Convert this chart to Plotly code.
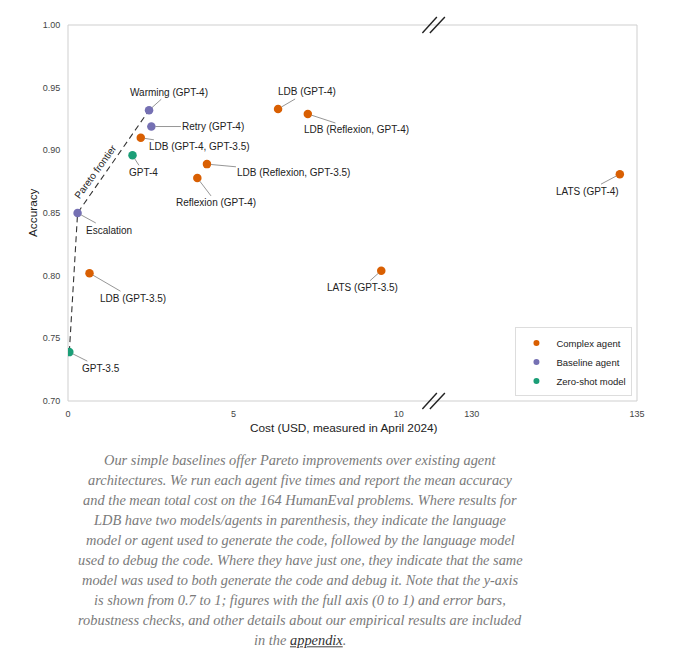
import plotly.graph_objects as go

# ---------------- data ----------------
labels = ["LDB (GPT-4)", "LDB (Reflexion, GPT-4)", "LDB (GPT-4, GPT-3.5)",
          "LDB (Reflexion, GPT-3.5)", "Reflexion (GPT-4)", "LATS (GPT-4)",
          "LDB (GPT-3.5)", "LATS (GPT-3.5)",
          "Warming (GPT-4)", "Retry (GPT-4)", "Escalation",
          "GPT-4", "GPT-3.5"]
cost = [6.35, 7.25, 2.20, 4.20, 3.91, 134.48, 0.65, 9.47,
        2.45, 2.52, 0.29,
        1.95, 0.04]
accuracy = [0.933, 0.929, 0.910, 0.889, 0.878, 0.881, 0.802, 0.804,
            0.932, 0.919, 0.850,
            0.896, 0.739]
group = ["Complex agent"] * 8 + ["Baseline agent"] * 3 + ["Zero-shot model"] * 2
categories = ["Complex agent", "Baseline agent", "Zero-shot model"]
frontier = ["GPT-3.5", "Escalation", "Warming (GPT-4)"]
left_ticks = [0, 5, 10]
right_ticks = [130, 135]
y_ticks = [0.70, 0.75, 0.80, 0.85, 0.90, 0.95, 1.00]
caption_lines = [
    "Our simple baselines offer Pareto improvements over existing agent",
    "architectures. We run each agent five times and report the mean accuracy",
    "and the mean total cost on the 164 HumanEval problems. Where results for",
    "LDB have two models/agents in parenthesis, they indicate the language",
    "model or agent used to generate the code, followed by the language model",
    "used to debug the code. Where they have just one, they indicate that the same",
    "model was used to both generate the code and debug it. Note that the y-axis",
    "is shown from 0.7 to 1; figures with the full axis (0 to 1) and error bars,",
    "robustness checks, and other details about our empirical results are included",
    "in the <u><span style='color:#333333'>appendix</span></u>.",
]

# ---------------- styling / layout ----------------
colors = {"Complex agent": "#D95F02", "Baseline agent": "#7570B3", "Zero-shot model": "#1B9E77"}
label_offsets = {
    "Warming (GPT-4)": (20, -18), "Retry (GPT-4)": (62, 0),
    "LDB (GPT-4, GPT-3.5)": (59, 9), "GPT-4": (11, 17),
    "LDB (Reflexion, GPT-3.5)": (87, 8), "Reflexion (GPT-4)": (19, 25),
    "LDB (GPT-4)": (29, -17), "LDB (Reflexion, GPT-4)": (49, 16),
    "LATS (GPT-4)": (-32, 17), "Escalation": (31, 17),
    "LDB (GPT-3.5)": (43, 25), "GPT-3.5": (32, 16), "LATS (GPT-3.5)": (-19, 17),
}
BREAK = 0.643
LEFT_MAX = 11.06
RIGHT_MIN = 128.85
FONT = "Liberation Sans"
# the page body adds an 8px offset, so the figure is laid out 8px smaller
PLOT_TOP, PLOT_BOTTOM, PLOT_LEFT, PLOT_W = 25, 401, 68, 569

def axis_of(c):
    return "x2" if c > 100 else "x"

fig = go.Figure()

# frontier
fx = [cost[labels.index(l)] for l in frontier]
fy = [accuracy[labels.index(l)] for l in frontier]
fig.add_trace(go.Scatter(x=fx, y=fy, mode="lines", xaxis="x", yaxis="y",
                         line=dict(color="#333333", width=1.1, dash="6px,4px"),
                         showlegend=False, hoverinfo="skip"))

for cat in categories:
    for ax_name in ["x", "x2"]:
        xs = [c for c, g in zip(cost, group) if g == cat and axis_of(c) == ax_name]
        ys = [a for c, a, g in zip(cost, accuracy, group) if g == cat and axis_of(c) == ax_name]
        ts = [t for c, t, g in zip(cost, labels, group) if g == cat and axis_of(c) == ax_name]
        if not xs:
            continue
        fig.add_trace(go.Scatter(x=xs, y=ys, text=ts, mode="markers", xaxis=ax_name, yaxis="y",
                                 marker=dict(color=colors[cat], size=8.5, line=dict(width=0)),
                                 showlegend=False))
    # legend entry
    fig.add_trace(go.Scatter(x=[None], y=[None], mode="markers", name=cat,
                             marker=dict(color=colors[cat], size=6)))

annotations = []
for t, c, a in zip(labels, cost, accuracy):
    axn = axis_of(c)
    dx, dy = label_offsets[t]
    annotations.append(dict(
        x=c, y=a, xref=axn, yref="y", text=t, showarrow=True,
        ax=dx, ay=dy, arrowhead=0, arrowwidth=0.9, arrowcolor="#8a8a8a",
        standoff=4, font=dict(family=FONT, size=10, color="#222222")))

# Pareto frontier label placed along the Escalation -> Warming segment
esc = labels.index("Escalation")
warm = labels.index("Warming (GPT-4)")
frac = 0.36
annotations.append(dict(
    x=cost[esc] + frac * (cost[warm] - cost[esc]),
    y=accuracy[esc] + frac * (accuracy[warm] - accuracy[esc]),
    xref="x", yref="y", text="Pareto frontier", showarrow=False,
    textangle=-54, xshift=-8, yshift=5,
    font=dict(family=FONT, size=10, color="#222222")))

# axis titles
annotations.append(dict(x=0.485, y=-0.0718, xref="paper", yref="paper",
                        text="Cost (USD, measured in April 2024)", showarrow=False,
                        xanchor="center", yanchor="middle",
                        font=dict(family=FONT, size=11.8, color="#222222")))
annotations.append(dict(x=-0.0615, y=0.5, xref="paper", yref="paper",
                        text="Accuracy", showarrow=False, textangle=-90,
                        xanchor="center", yanchor="middle",
                        font=dict(family=FONT, size=11.8, color="#222222")))

# caption
for i, line in enumerate(caption_lines):
    py = 460 + 20 * i
    annotations.append(dict(x=(300 - PLOT_LEFT) / PLOT_W, y=(PLOT_BOTTOM - py) / (PLOT_BOTTOM - PLOT_TOP),
                            xref="paper", yref="paper",
                            text="<i>" + line + "</i>", showarrow=False,
                            xanchor="center", yanchor="middle",
                            font=dict(family="Liberation Serif", size=14.4, color="#7a7a7a")))

shapes = [dict(type="rect", xref="paper", yref="paper", x0=0, x1=1, y0=0, y1=1,
               line=dict(color="#cfcfcf", width=1), layer="below")]
for yanc in [0, 1]:
    for (x0, y0, x1, y1) in [(-11.5, -8, 3, 8), (-4, -8, 11, 8)]:
        shapes.append(dict(type="line", xref="paper", yref="paper",
                           xsizemode="pixel", ysizemode="pixel",
                           xanchor=BREAK, yanchor=yanc,
                           x0=x0, x1=x1, y0=y0, y1=y1,
                           line=dict(color="#222222", width=1.4)))

tickfont = dict(family=FONT, size=9, color="#444444")
fig.update_layout(
    width=687, height=659,
    margin=dict(l=60, r=58, t=17, b=266),
    paper_bgcolor="white", plot_bgcolor="white",
    font=dict(family=FONT),
    xaxis=dict(domain=[0, BREAK], range=[0, LEFT_MAX], tickvals=left_ticks,
               showgrid=False, zeroline=False, showline=False,
               ticks="outside", ticklen=4, tickcolor="rgba(0,0,0,0)", tickfont=tickfont,
               anchor="y"),
    xaxis2=dict(domain=[BREAK, 1], range=[RIGHT_MIN, 135], tickvals=right_ticks,
                showgrid=False, zeroline=False, showline=False,
                ticks="outside", ticklen=4, tickcolor="rgba(0,0,0,0)", tickfont=tickfont,
                anchor="y"),
    yaxis=dict(range=[0.70, 1.00], tickvals=y_ticks, tickformat=".2f",
               showgrid=False, zeroline=False, showline=False,
               ticks="outside", ticklen=5, tickcolor="rgba(0,0,0,0)", tickfont=tickfont,
               anchor="x"),
    legend=dict(x=0.992, y=0.012, xanchor="right", yanchor="bottom",
                bgcolor="white", bordercolor="#dddddd", borderwidth=1,
                font=dict(family=FONT, size=9.5, color="#222222"),
                tracegroupgap=0, itemwidth=30),
    annotations=annotations,
    shapes=shapes,
)

fig.write_html("out.html")
